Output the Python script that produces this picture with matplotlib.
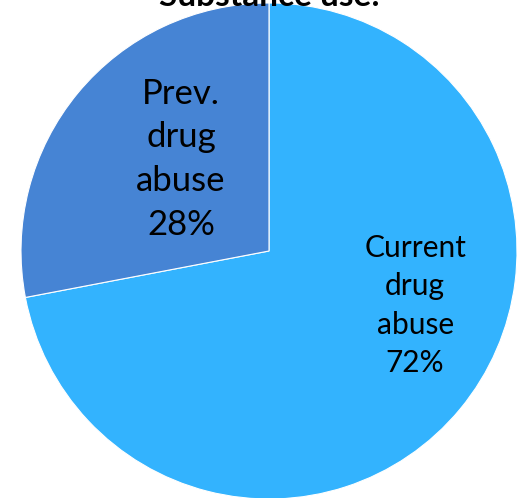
import matplotlib.pyplot as plt

labels = ["Current\ndrug\nabuse", "Prev.\ndrug\nabuse"]
values = [72, 28]
colors = ["#33B3FE", "#4684D4"]

W, H = 523, 498
cx, cy, r = 269, 251, 248  # pie centre / radius in pixels (from top-left)

fig = plt.figure(figsize=(W / 100, H / 100), dpi=100)
ax = fig.add_axes([(cx - r) / W, (H - cy - r) / H, 2 * r / W, 2 * r / H])
wedges, _ = ax.pie(values, colors=colors, startangle=90, counterclock=False,
                   wedgeprops=dict(edgecolor="white", linewidth=0.8))
ax.set_xlim(-1, 1)
ax.set_ylim(-1, 1)
ax.axis("off")

# label positions (data coords) and sizes
label_pos = [(0.589, -0.22), (-0.355, 0.37)]
label_size = [21.5, 25]
for lab, v, (x, y), fs in zip(labels, values, label_pos, label_size):
    ax.text(x, y, f"{lab}\n{v}%", ha="center", va="center", fontsize=fs,
            family="Lato", linespacing=1.45, color="black")

fig.text(cx / W, 1 - 6 / H, "Substance use:", ha="center", va="baseline",
         fontsize=24, fontweight="bold", family="Lato")

fig.savefig("out.png", dpi=100)
